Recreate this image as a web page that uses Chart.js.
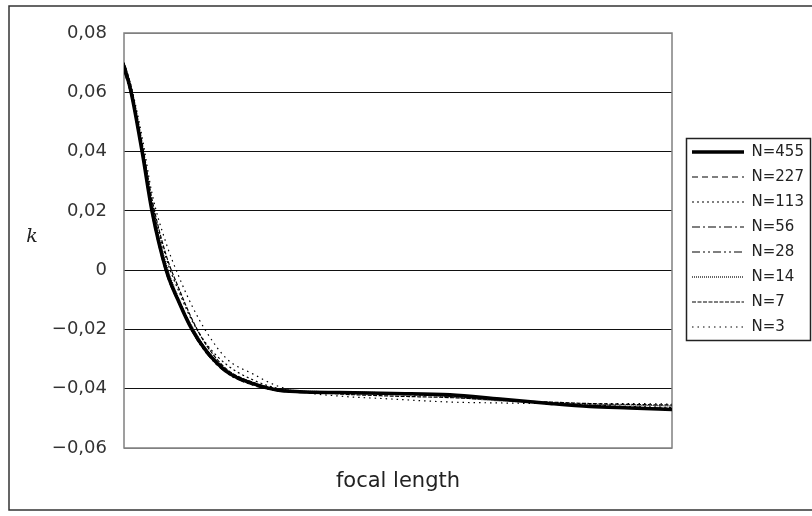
<!DOCTYPE html>
<html>
<head>
<meta charset="utf-8">
<script src="https://cdn.jsdelivr.net/npm/chart.js@4/dist/chart.umd.min.js"></script>
<style>
    body { margin: 0; background: #fff; }
</style>
</head>
<body>
<canvas id="chart" width="812" height="516"></canvas>
<script>
var focal = [0, 1.3, 3.3, 5.1, 7.7, 10.2, 12.4, 15.1, 18.8, 23.5, 27.9, 32.1, 39.4, 49.1, 59.5, 68.6, 77.7, 85.0, 92.3, 100];
var n455 = [0.069, 0.060, 0.040, 0.020, 0.000, -0.0115, -0.020, -0.0275, -0.0343, -0.0383, -0.0404, -0.041, -0.0413, -0.0416, -0.042, -0.0435, -0.045, -0.046, -0.0465, -0.047];
var n227 = [0.068, 0.059, 0.039, 0.019, -0.001, -0.012, -0.0205, -0.028, -0.0345, -0.0385, -0.0405, -0.0412, -0.0414, -0.0417, -0.0422, -0.0436, -0.0451, -0.046, -0.0466, -0.0471];
var n113 = [0.069, 0.061, 0.042, 0.023, 0.004, -0.008, -0.017, -0.025, -0.032, -0.037, -0.0398, -0.0408, -0.0412, -0.0418, -0.0425, -0.0438, -0.0448, -0.0455, -0.046, -0.0463];
var n56 = [0.068, 0.060, 0.041, 0.021, 0.001, -0.011, -0.0195, -0.027, -0.034, -0.038, -0.0402, -0.0411, -0.0414, -0.0418, -0.0424, -0.0437, -0.045, -0.0458, -0.0464, -0.0468];
var n28 = [0.067, 0.059, 0.040, 0.020, 0.000, -0.0118, -0.0205, -0.0282, -0.0348, -0.0388, -0.0407, -0.0413, -0.0415, -0.0419, -0.0425, -0.0438, -0.0449, -0.0456, -0.0462, -0.0466];
var n14 = [0.069, 0.061, 0.041, 0.022, 0.002, -0.0105, -0.019, -0.0268, -0.0338, -0.0381, -0.0402, -0.0408, -0.041, -0.0415, -0.0428, -0.0441, -0.0447, -0.0452, -0.0455, -0.0458];
var n7 = [0.070, 0.062, 0.043, 0.024, 0.005, -0.007, -0.0165, -0.0255, -0.0335, -0.0378, -0.0401, -0.0409, -0.0418, -0.0425, -0.043, -0.0438, -0.0445, -0.045, -0.0453, -0.0455];
var n3 = [0.070, 0.062, 0.045, 0.026, 0.009, -0.003, -0.012, -0.021, -0.030, -0.035, -0.039, -0.041, -0.0425, -0.0435, -0.0445, -0.0448, -0.045, -0.045, -0.045, -0.0452];
var seriesLabels = ['N=455', 'N=227', 'N=113', 'N=56', 'N=28', 'N=14', 'N=7', 'N=3'];
var yTicks = [-0.06, -0.04, -0.02, 0, 0.02, 0.04, 0.06, 0.08];

function points(ys) {
    return focal.map(function (x, i) { return { x: x, y: ys[i] }; });
}

function series(label, ys, width, dash) {
    return {
        label: label,
        data: points(ys),
        borderColor: '#000',
        backgroundColor: '#000',
        borderWidth: width,
        borderDash: dash,
        pointRadius: 0,
        fill: false,
        cubicInterpolationMode: 'monotone'
    };
}

// frame, legend box, outer border and the upright italic "k"
var decorations = {
    id: 'decorations',
    beforeDraw: function (chart) {
        var lg = chart.legend;
        lg.left = 682; lg.top = 134.5; lg.right = 812; lg.bottom = 380;
        lg.width = lg.right - lg.left; lg.height = lg.bottom - lg.top;
    },
    beforeDatasetsDraw: function (chart) {
        var a = chart.chartArea, ctx = chart.ctx;
        ctx.save();
        ctx.strokeStyle = '#808080';
        ctx.lineWidth = 1.5;
        ctx.strokeRect(a.left, a.top, a.right - a.left, a.bottom - a.top);
        ctx.restore();
    },
    afterDraw: function (chart) {
        var ctx = chart.ctx;
        ctx.save();
        ctx.strokeStyle = '#222';
        ctx.lineWidth = 1.5;
        ctx.strokeRect(686.5, 138.5, 124, 202);
        ctx.strokeStyle = '#333';
        ctx.strokeRect(9, 6, 810, 504);
        ctx.fillStyle = '#222';
        ctx.font = 'italic 19px "DejaVu Serif"';
        ctx.textAlign = 'center';
        ctx.textBaseline = 'middle';
        ctx.fillText('k', 32, 237);
        ctx.restore();
    }
};

window.addEventListener("load", function () {
    var ctx = document.getElementById('chart').getContext('2d');
    var chart = new Chart(ctx, {
        type: 'line',
        data: {
            datasets: [
                series(seriesLabels[0], n455, 3.5, []),
                series(seriesLabels[1], n227, 1.2, [6, 4]),
                series(seriesLabels[2], n113, 1.2, [2, 3]),
                series(seriesLabels[3], n56, 1.2, [8, 3, 2, 3]),
                series(seriesLabels[4], n28, 1.2, [8, 3, 2, 3, 2, 3]),
                series(seriesLabels[5], n14, 1.2, [1, 1]),
                series(seriesLabels[6], n7, 1.2, [4, 1.5]),
                series(seriesLabels[7], n3, 1.2, [1.5, 4])
            ]
        },
        options: {
            responsive: false,
            animation: false,
            layout: { padding: { left: 10, top: 33, right: 40, bottom: 18 } },
            scales: {
                x: {
                    type: 'linear',
                    min: 0,
                    max: 100,
                    ticks: { display: false },
                    grid: { display: false },
                    border: { display: false },
                    title: {
                        display: true,
                        text: 'focal length',
                        color: '#222',
                        font: { family: 'DejaVu Sans', size: 21 },
                        padding: { top: 0, bottom: 4 }
                    },
                    afterFit: function (scale) { scale.height = 50; }
                },
                y: {
                    min: -0.06,
                    max: 0.08,
                    afterBuildTicks: function (scale) {
                        scale.ticks = yTicks.map(function (v) { return { value: v }; });
                    },
                    ticks: {
                        color: '#333',
                        padding: 17,
                        font: { family: 'DejaVu Sans', size: 18 },
                        callback: function (v) {
                            var s = Math.round(v * 100) / 100;
                            return s === 0 ? '0' : String(s).replace('.', ',').replace('-', '\u2212');
                        }
                    },
                    grid: {
                        drawTicks: false,
                        lineWidth: 1,
                        color: function (c) {
                            var v = c.tick ? c.tick.value : 0;
                            return (Math.abs(v - 0.08) < 1e-9 || Math.abs(v + 0.06) < 1e-9) ? '#808080' : '#111';
                        }
                    },
                    border: { display: false },
                    afterFit: function (scale) { scale.width = 114; }
                }
            },
            plugins: {
                legend: {
                    display: true,
                    position: 'right',
                    align: 'start',
                    maxWidth: 100,
                    labels: {
                        usePointStyle: true,
                        pointStyleWidth: 52,
                        padding: 10,
                        color: '#222',
                        font: { family: 'DejaVu Sans', size: 15 },
                        generateLabels: function (chart) {
                            return chart.data.datasets.map(function (ds, i) {
                                return {
                                    text: ds.label,
                                    fillStyle: '#000',
                                    strokeStyle: '#000',
                                    fontColor: '#222',
                                    lineWidth: ds.borderWidth,
                                    lineDash: ds.borderDash,
                                    pointStyle: 'line',
                                    datasetIndex: i,
                                    hidden: false
                                };
                            });
                        }
                    }
                },
                tooltip: { enabled: false }
            }
        },
        plugins: [decorations]
    });
});
</script>
</body>
</html>
